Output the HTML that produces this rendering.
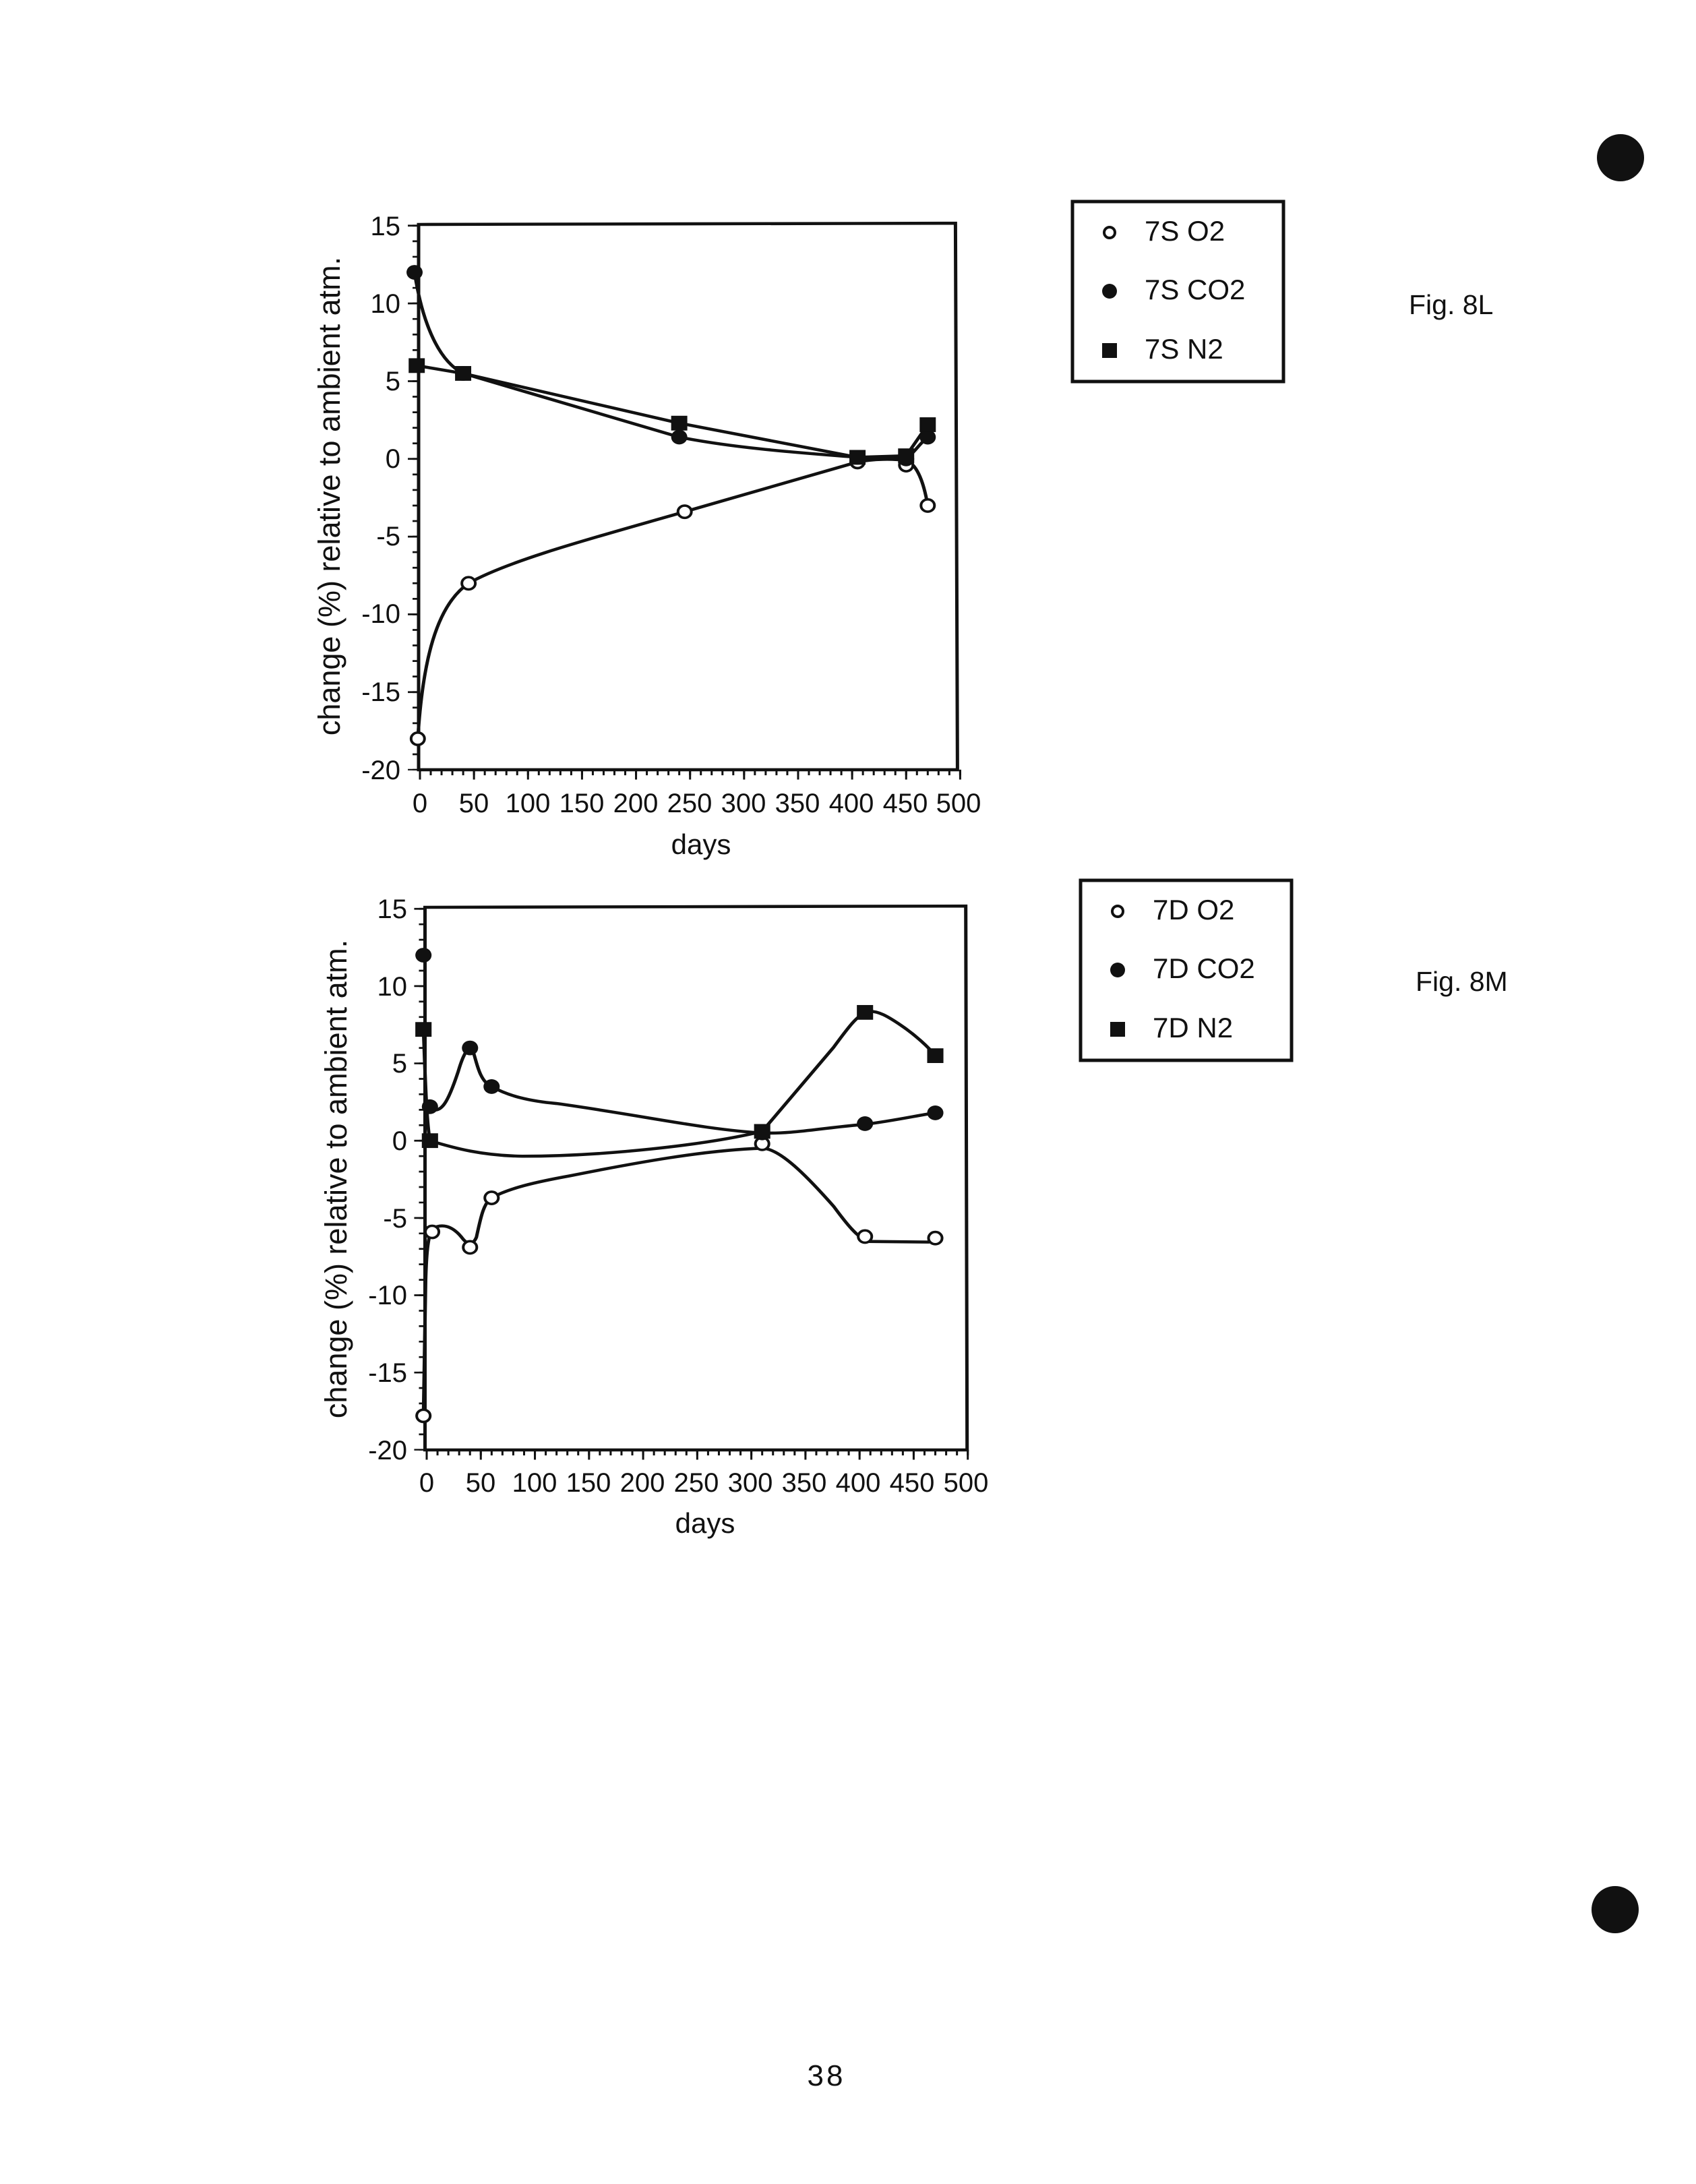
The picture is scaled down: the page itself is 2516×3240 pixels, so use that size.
<!DOCTYPE html>
<html><head><meta charset="utf-8"><style>
html,body{margin:0;padding:0;background:#fff}
svg{display:block}
text{font-family:"Liberation Sans",sans-serif;fill:#111}
</style></head><body>
<svg width="2516" height="3240" viewBox="0 0 2516 3240" xmlns="http://www.w3.org/2000/svg">
<rect width="2516" height="3240" fill="#fff"/>

<!-- ===== Chart 1 ===== -->
<g transform="matrix(0.998,0,0,0.912,-1.75,22.9)">
<path d="M624 340 L1422 338 L1425 1227 L624 1227 Z" fill="none" stroke="#111" stroke-width="5"/>
<line x1="619.5" y1="340.5" x2="619.5" y2="1228" stroke="#111" stroke-width="9" stroke-dasharray="3 22.29"/>
<line x1="616" y1="340.5" x2="616" y2="1228" stroke="#111" stroke-width="16" stroke-dasharray="3 123.45"/>
<line x1="624.5" y1="1231.5" x2="1431" y2="1231.5" stroke="#111" stroke-width="9" stroke-dasharray="3 13.06"/>
<line x1="624.5" y1="1235" x2="1431" y2="1235" stroke="#111" stroke-width="16" stroke-dasharray="3 77.3"/>
<g fill="none" stroke="#111" stroke-width="5">
<path d="M622.8 1176.6 C630 1050,650 960,698.3 923.7 C760 885,900 845,1019.5 807.3 L1276.4 726.4 C1300 721,1330 721,1348.7 724 C1365 730,1375 760,1380.8 797.2"/>
<path d="M618 417.9 C628 490,650 560,690.2 582.3 L1011.4 685.9 C1100 705,1200 712,1276.4 718.8 L1348.7 721.4 C1360 712,1370 695,1380.8 686"/>
<path d="M621.2 569.6 L690.2 582.3 L1011.4 663.2 L1276.4 718.8 L1348.7 716.3 L1380.8 665.7"/>
</g>
<g fill="#fff" stroke="#111" stroke-width="4">
<circle cx="622.8" cy="1176.6" r="10"/><circle cx="698.3" cy="923.7" r="10"/><circle cx="1019.5" cy="807.3" r="10"/>
<circle cx="1276.4" cy="726.4" r="10"/><circle cx="1348.7" cy="731.5" r="10"/><circle cx="1380.8" cy="797.2" r="10"/>
</g>
<g fill="#111">
<circle cx="618" cy="417.9" r="12"/><circle cx="690.2" cy="582.3" r="12"/><circle cx="1011.4" cy="685.9" r="12"/>
<circle cx="1276.4" cy="718.8" r="12"/><circle cx="1348.7" cy="721.4" r="12"/><circle cx="1380.8" cy="686" r="12"/>
<rect x="609.2" y="557.6" width="24" height="24"/><rect x="678.2" y="570.3" width="24" height="24"/><rect x="999.4" y="651.2" width="24" height="24"/>
<rect x="1264.4" y="706.8" width="24" height="24"/><rect x="1336.7" y="704.3" width="24" height="24"/><rect x="1368.8" y="653.7" width="24" height="24"/>
</g>
</g>
<g font-size="40" text-anchor="end">
<text x="594" y="349">15</text><text x="594" y="464">10</text><text x="594" y="579">5</text><text x="594" y="694">0</text>
<text x="594" y="809">-5</text><text x="594" y="924">-10</text><text x="594" y="1040">-15</text><text x="594" y="1156">-20</text>
</g>
<g font-size="40" text-anchor="middle">
<text x="623" y="1205">0</text><text x="703" y="1205">50</text><text x="783" y="1205">100</text><text x="863" y="1205">150</text>
<text x="943" y="1205">200</text><text x="1023" y="1205">250</text><text x="1103" y="1205">300</text><text x="1183" y="1205">350</text>
<text x="1263" y="1205">400</text><text x="1343" y="1205">450</text><text x="1422" y="1205">500</text>
</g>
<text x="1040" y="1267" font-size="42" text-anchor="middle">days</text>
<text transform="translate(504,736) rotate(-90)" font-size="45" text-anchor="middle">change (%) relative to ambient atm.</text>

<!-- ===== Chart 2 ===== -->
<g transform="matrix(1.004,0,0,0.9096,-8.05,116.2)">
<path d="M636 1352 L1435 1350 L1437 2237 L636 2237 Z" fill="none" stroke="#111" stroke-width="5"/>
<line x1="631.5" y1="1353" x2="631.5" y2="2238" stroke="#111" stroke-width="9" stroke-dasharray="3 22.21"/>
<line x1="628" y1="1353" x2="628" y2="2238" stroke="#111" stroke-width="16" stroke-dasharray="3 123.05"/>
<line x1="637" y1="2241.5" x2="1441" y2="2241.5" stroke="#111" stroke-width="9" stroke-dasharray="3 12.99"/>
<line x1="637" y1="2245" x2="1441" y2="2245" stroke="#111" stroke-width="16" stroke-dasharray="3 76.95"/>
<g fill="none" stroke="#111" stroke-width="5">
<path d="M633.7 2181 L637 1960 C638 1920,640 1890,646.5 1876 C660 1868,675 1870,690 1890 C698 1902,706 1905,712 1890 C718 1860,722 1835,734.4 1825.9 C760 1810,800 1800,850 1790 C950 1768,1050 1748,1134.2 1745 C1160 1745,1200 1790,1240 1840 C1260 1870,1275 1890,1290 1897 L1380 1898 C1385 1898,1388 1894,1390 1891.5"/>
<path d="M643.3 1680 C660 1690,670 1670,685 1620 C693 1590,700 1578,706 1584 C712 1600,715 1635,734.4 1644.4 C760 1660,790 1668,830 1672 C950 1690,1050 1715,1134.2 1720 C1180 1722,1220 1712,1286.1 1706 C1330 1700,1370 1690,1390 1687.3"/>
<path d="M633.7 1551 C636 1620,638 1700,643.3 1732.65 C680 1745,720 1757,780 1758 C900 1758,1050 1740,1134.2 1717.5 L1240 1580 C1260 1550,1275 1527,1290 1522 C1305 1520,1320 1530,1340 1545 C1360 1560,1380 1580,1390 1594"/>
</g>
<g fill="#fff" stroke="#111" stroke-width="4">
<circle cx="633.7" cy="2181.4" r="10"/><circle cx="646.5" cy="1881.4" r="10"/><circle cx="702.5" cy="1906.6" r="10"/>
<circle cx="734.4" cy="1825.9" r="10"/><circle cx="1134.2" cy="1737.7" r="10"/><circle cx="1286.1" cy="1889" r="10"/><circle cx="1390" cy="1891.5" r="10"/>
</g>
<g fill="#111">
<circle cx="633.7" cy="1430.1" r="12"/><circle cx="643.3" cy="1677.2" r="12"/><circle cx="702.5" cy="1581.4" r="12"/>
<circle cx="734.4" cy="1644.4" r="12"/><circle cx="1134.2" cy="1720" r="12"/><circle cx="1286.1" cy="1704.9" r="12"/><circle cx="1390" cy="1687.3" r="12"/>
<rect x="621.7" y="1539.2" width="24" height="24"/><rect x="631.3" y="1720.6" width="24" height="24"/><rect x="1122.2" y="1705.5" width="24" height="24"/>
<rect x="1274.1" y="1511.4" width="24" height="24"/><rect x="1378" y="1582" width="24" height="24"/>
</g>
</g>
<g font-size="40" text-anchor="end">
<text x="604" y="1362">15</text><text x="604" y="1477">10</text><text x="604" y="1591">5</text><text x="604" y="1706">0</text>
<text x="604" y="1821">-5</text><text x="604" y="1935">-10</text><text x="604" y="2050">-15</text><text x="604" y="2165">-20</text>
</g>
<g font-size="40" text-anchor="middle">
<text x="633" y="2213">0</text><text x="713" y="2213">50</text><text x="793" y="2213">100</text><text x="873" y="2213">150</text>
<text x="953" y="2213">200</text><text x="1033" y="2213">250</text><text x="1113" y="2213">300</text><text x="1193" y="2213">350</text>
<text x="1273" y="2213">400</text><text x="1353" y="2213">450</text><text x="1433" y="2213">500</text>
</g>
<text x="1046" y="2274" font-size="42" text-anchor="middle">days</text>
<text transform="translate(514,1749) rotate(-90)" font-size="45" text-anchor="middle">change (%) relative to ambient atm.</text>

<!-- Legend 1 -->
<rect x="1591" y="299" width="313" height="267" fill="none" stroke="#111" stroke-width="5"/>
<circle cx="1646" cy="345" r="8" fill="none" stroke="#111" stroke-width="4"/>
<circle cx="1646" cy="432" r="11" fill="#111"/>
<rect x="1635" y="509" width="22" height="22" fill="#111"/>
<g font-size="42"><text x="1698" y="357">7S O2</text><text x="1698" y="444">7S CO2</text><text x="1698" y="532">7S N2</text></g>
<text x="2090" y="466" font-size="41">Fig. 8L</text>

<!-- Legend 2 -->
<rect x="1603" y="1306" width="313" height="267" fill="none" stroke="#111" stroke-width="5"/>
<circle cx="1658" cy="1352" r="8" fill="none" stroke="#111" stroke-width="4"/>
<circle cx="1658" cy="1439" r="11" fill="#111"/>
<rect x="1647" y="1516" width="22" height="22" fill="#111"/>
<g font-size="42"><text x="1710" y="1364">7D O2</text><text x="1710" y="1451">7D CO2</text><text x="1710" y="1539">7D N2</text></g>
<text x="2100" y="1470" font-size="41">Fig. 8M</text>

<circle cx="2404" cy="234" r="35" fill="#111"/>
<circle cx="2396" cy="2833" r="35" fill="#111"/>
<text x="1226" y="3094" font-size="44" text-anchor="middle" letter-spacing="4">38</text>
</svg>
</body></html>
